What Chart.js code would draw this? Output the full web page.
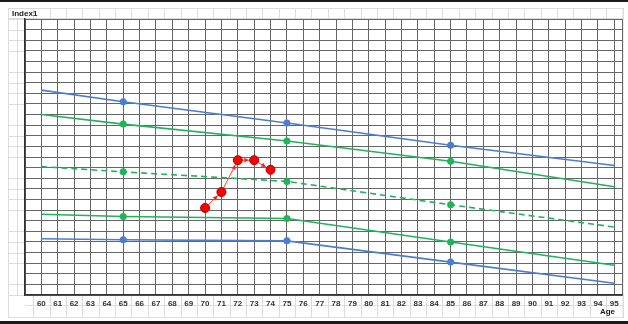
<!DOCTYPE html>
<html>
<head>
<meta charset="utf-8">
<script src="https://cdn.jsdelivr.net/npm/chart.js@4/dist/chart.umd.min.js"></script>
<style>
  html, body { margin: 0; padding: 0; background: #fff; }
  #wrap { width: 628px; height: 324px; position: relative; }
</style>
</head>
<body>
<div id="wrap"><canvas id="ageChart" width="628" height="324"></canvas></div>
<script>
// reference lines (age -> index)
const ages = [60, 65, 75, 85, 95];
const blueUpper = [19.3, 18.2, 16.2, 14.1, 12.2];
const greenUpper = [17.0, 16.1, 14.5, 12.6, 10.2];
const greenDashed = [12.1, 11.6, 10.7, 8.5, 6.4];
const greenLower = [7.6, 7.4, 7.2, 5.0, 2.8];
const blueLower = [5.3, 5.2, 5.1, 3.1, 1.1];
const markerRadius = [0, 3.5, 3.5, 3.5, 0];

// measured series
const redAges = [70, 71, 72, 73, 74];
const redValues = [8.2, 9.7, 12.7, 12.7, 11.8];

// x axis labels
const tickAges = [60, 61, 62, 63, 64, 65, 66, 67, 68, 69, 70, 71, 72, 73, 74, 75, 76, 77,
  78, 79, 80, 81, 82, 83, 84, 85, 86, 87, 88, 89, 90, 91, 92, 93, 94, 95];

function toPoints(xs, ys) {
  return xs.map((x, i) => ({ x: x, y: ys[i] }));
}

function refLine(values, color, dashed) {
  return {
    data: toPoints(ages, values),
    borderColor: color,
    backgroundColor: color,
    borderWidth: 1.6,
    borderDash: dashed ? [6, 4] : [],
    pointRadius: markerRadius,
    pointHoverRadius: markerRadius,
    pointBorderWidth: 0,
    tension: 0,
  };
}

const BLUE = "#4a7dd3";
const GREEN = "#1fb35a";

// frame, margin cells, arrows and the two titles
const decor = {
  id: "decor",
  beforeDraw(chart) {
    const ctx = chart.ctx;
    const area = chart.chartArea;
    const xs = chart.scales.x;
    const ys = chart.scales.y;
    ctx.save();
    ctx.fillStyle = "#fff";
    ctx.fillRect(0, 0, chart.width, chart.height);
    ctx.fillStyle = "#1a1a1a";
    ctx.fillRect(0, 0, chart.width, 2);
    ctx.fillRect(0, chart.height - 3, chart.width, 3);

    ctx.strokeStyle = "#dcdcdc";
    ctx.lineWidth = 1;
    ctx.strokeRect(8.5, 8.5, area.right - 8, 309);
    ctx.beginPath();
    // left margin cells
    ctx.moveTo(17.5, area.top);
    ctx.lineTo(17.5, area.bottom);
    for (let v = 0; v <= 26; v++) {
      if (v % 5 === 2) continue;
      const y = Math.round(ys.getPixelForValue(v)) + 0.5;
      ctx.moveTo(8, y);
      ctx.lineTo(area.left, y);
    }
    // top and bottom strips
    ctx.moveTo(8, area.top - 0.5);
    ctx.lineTo(area.right, area.top - 0.5);
    ctx.moveTo(area.left, 305.5);
    ctx.lineTo(area.right, 305.5);
    for (let a = 59; a <= 95; a++) {
      const x = Math.round(xs.getPixelForValue(a + 0.5)) + 0.5;
      ctx.moveTo(x, 8);
      ctx.lineTo(x, area.top);
      ctx.moveTo(x, area.bottom);
      ctx.lineTo(x, 318);
    }
    ctx.stroke();
    ctx.restore();
  },
  afterDatasetsDraw(chart) {
    const ctx = chart.ctx;
    const pts = chart.getDatasetMeta(5).data;
    ctx.save();
    ctx.fillStyle = "#ff2020";
    for (let i = 0; i < pts.length - 1; i++) {
      const a = pts[i], b = pts[i + 1];
      const ang = Math.atan2(b.y - a.y, b.x - a.x);
      const tx = b.x - Math.cos(ang) * 5.5;
      const ty = b.y - Math.sin(ang) * 5.5;
      ctx.beginPath();
      ctx.moveTo(tx, ty);
      ctx.lineTo(tx - Math.cos(ang - 0.5) * 5, ty - Math.sin(ang - 0.5) * 5);
      ctx.lineTo(tx - Math.cos(ang + 0.5) * 5, ty - Math.sin(ang + 0.5) * 5);
      ctx.closePath();
      ctx.fill();
    }
    ctx.restore();
  },
  afterDraw(chart) {
    const ctx = chart.ctx;
    ctx.save();
    ctx.fillStyle = "#222";
    ctx.font = "bold 8px 'Liberation Sans', Arial, sans-serif";
    ctx.textBaseline = "middle";
    ctx.textAlign = "left";
    ctx.fillText("Index1", 12, 13.5);
    ctx.textAlign = "right";
    ctx.fillText("Age", 615, 312);
    ctx.restore();
  },
};

const ctx = document.getElementById("ageChart").getContext("2d");
new Chart(ctx, {
  type: "line",
  data: {
    datasets: [
      refLine(blueUpper, BLUE, false),
      refLine(greenUpper, GREEN, false),
      refLine(greenDashed, GREEN, true),
      refLine(greenLower, GREEN, false),
      refLine(blueLower, BLUE, false),
      {
        data: toPoints(redAges, redValues),
        borderColor: "#ff3b3b",
        backgroundColor: "#ff0000",
        pointBorderColor: "#b00000",
        pointBorderWidth: 1,
        borderWidth: 1,
        pointRadius: 4.5,
        tension: 0,
      },
    ],
  },
  options: {
    responsive: false,
    animation: false,
    layout: { padding: { left: 0, top: 19, right: 3, bottom: 0 } },
    plugins: {
      legend: { display: false },
      tooltip: { enabled: false },
    },
    scales: {
      x: {
        type: "linear",
        min: 59,
        max: 95.5,
        afterFit(scale) { scale.height = 29; },
        afterBuildTicks(scale) {
          const t = [{ value: 59 }];
          tickAges.forEach((a) => t.push({ value: a }));
          t.push({ value: 95.5 });
          scale.ticks = t;
        },
        grid: { color: "#666", lineWidth: 1, drawTicks: false },
        border: { color: "#333", width: 1.5 },
        ticks: {
          autoSkip: false,
          maxRotation: 0,
          padding: 4,
          color: "#333",
          font: { family: "'Liberation Sans', Arial, sans-serif", size: 8, weight: "bold" },
          callback: (v) => (tickAges.includes(v) ? String(v) : ""),
        },
      },
      y: {
        min: 0,
        max: 26,
        afterFit(scale) { scale.width = 25; },
        grid: { color: "#666", lineWidth: 1, drawTicks: false },
        border: { color: "#333", width: 1.5 },
        ticks: { display: false, stepSize: 1 },
      },
    },
  },
  plugins: [decor],
});
</script>
</body>
</html>
